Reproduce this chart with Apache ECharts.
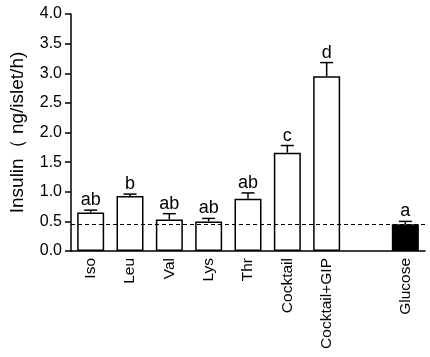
<!DOCTYPE html>
<html><head><meta charset="utf-8">
<script src="https://cdn.jsdelivr.net/npm/echarts@6/dist/echarts.min.js"></script>
<style>html,body{margin:0;padding:0;background:#fff}#c{width:430px;height:357px}</style>
</head><body><div id="c"></div>
<script>
const categories = ['Iso','Leu','Val','Lys','Thr','Cocktail','Cocktail+GIP','','Glucose'];
const means = [0.65, 0.93, 0.53, 0.50, 0.88, 1.66, 2.95, null, 0.45];
const errUpper = [0.69, 0.96, 0.63, 0.55, 0.98, 1.78, 3.18, null, 0.50];
const letters = ['ab','b','ab','ab','ab','c','d','','a'];
const baseline = 0.45;
const yTicks = ['0.0','0.5','1.0','1.5','2.0','2.5','3.0','3.5','4.0'];

const font = 'Arial, "Liberation Sans", sans-serif';
const chart = echarts.init(document.getElementById('c'));
const barData = means.map((v,i)=> v==null ? null : {
  value: v,
  itemStyle: { color: categories[i]==='Glucose' ? '#000' : '#fff', borderColor:'#000', borderWidth:1.5 }
});
chart.setOption({
  animation:false,
  grid:{left:66,right:5,top:14,bottom:106},
  xAxis:{
    type:'category', data:categories,
    axisLine:{lineStyle:{color:'#000',width:1.5}},
    axisTick:{show:false},
    axisLabel:{rotate:90,color:'#000',fontFamily:font,fontSize:15.5,margin:7,interval:0}
  },
  yAxis:{
    type:'value', min:0, max:4, interval:0.5,
    name:'Insulin（ ng/islet/h)', nameLocation:'middle', nameGap:44,
    nameTextStyle:{color:'#000',fontFamily:font,fontSize:19},
    axisLine:{show:true,lineStyle:{color:'#000',width:1.5}},
    axisTick:{show:true,length:6,lineStyle:{color:'#000',width:1.5}},
    splitLine:{show:false},
    axisLabel:{color:'#000',fontFamily:font,fontSize:16,margin:9,
      formatter:(v)=>yTicks[Math.round(v/0.5)]}
  },
  series:[
    {
      type:'custom', z:1,
      data: errUpper.map((u,i)=>[i, means[i], u, letters[i]]),
      renderItem:(params, api)=>{
        if (api.value(1)==null || isNaN(api.value(1))) return null;
        const p0 = api.coord([api.value(0), api.value(1)]);
        const p1 = api.coord([api.value(0), api.value(2)]);
        const hw = 6.5;
        return {type:'group', children:[
          {type:'line', shape:{x1:p0[0],y1:p0[1],x2:p1[0],y2:p1[1]}, style:{stroke:'#000',lineWidth:1.5}},
          {type:'line', shape:{x1:p1[0]-hw,y1:p1[1],x2:p1[0]+hw,y2:p1[1]}, style:{stroke:'#000',lineWidth:1.5}},
          {type:'text', x:p1[0], y:p1[1]-1, style:{text:letters[params.dataIndex], fill:'#000', font:'18px '+font, align:'center', verticalAlign:'bottom'}}
        ]};
      }
    },
    {
      type:'bar', z:2, barWidth:27, data:barData,
      markLine:{
        silent:true, symbol:'none', label:{show:false},
        lineStyle:{color:'#000',type:[4,3],width:1.2},
        data:[{yAxis:baseline}]
      }
    }
  ]
});
</script></body></html>
